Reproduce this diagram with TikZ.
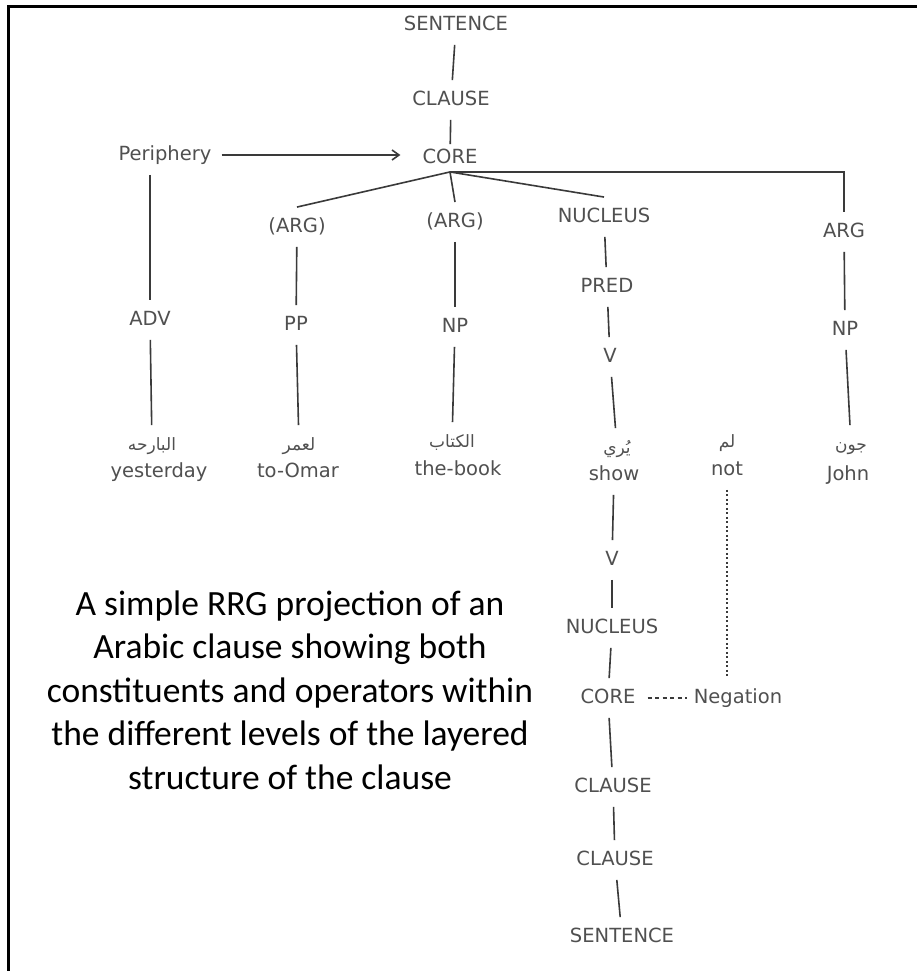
\documentclass[tikz,border=0pt]{standalone}
\usepackage{fontspec}
\setmainfont{DejaVu Sans}
\newfontfamily\treefont{DejaVu Sans}
\newfontfamily\arabicfont[Script=Arabic]{DejaVu Sans}
\newfontfamily\capfont{Carlito}
\TeXXeTstate=1
\usetikzlibrary{arrows.meta}
\definecolor{tc}{HTML}{505050}
\definecolor{lc}{HTML}{3A3A3A}
\begin{document}
\begin{tikzpicture}[x=1pt,y=-1pt,
  lbl/.style={font=\treefont\fontsize{19.5}{22}\selectfont, text=tc, inner xsep=4pt, inner ysep=11pt, text height=14.5pt, text depth=3pt},
  ar/.style={font=\arabicfont\fontsize{17}{20}\selectfont, text=tc, inner xsep=4pt, inner ysep=11pt, text height=14.5pt, text depth=3pt},
  edge/.style={draw=lc, line width=1.6pt},
  thin edge/.style={draw=lc, line width=1.3pt}]
\useasboundingbox (0,0) rectangle (917,971);
\fill[white] (0,0) rectangle (917,971);
\draw[line width=3pt] (8,971) -- (8,7) -- (917,7);

% upper tree
\node[lbl] (s1) at (456,25) {SENTENCE};
\node[lbl] (c1) at (451,100) {CLAUSE};
\node[lbl, inner ysep=5pt] (core) at (450,158) {CORE};
\node[lbl] (peri) at (165,155) {Periphery};
\node[lbl] (arg1) at (297,227) {(ARG)};
\node[lbl] (arg2) at (455,222) {(ARG)};
\node[lbl] (nuc1) at (604,217) {NUCLEUS};
\node[lbl] (arg3) at (844,232) {ARG};
\node[lbl] (adv) at (150,320) {ADV};
\node[lbl] (pp) at (296,325) {PP};
\node[lbl] (np2) at (455,327) {NP};
\node[lbl] (pred) at (607,287) {PRED};
\node[lbl] (v1) at (610,357) {V};
\node[lbl] (np3) at (845,330) {NP};

% words
\node[ar] (advar) at (152,445) {\beginR البارحه\endR};
\node[ar] (omarar) at (299,445) {\beginR لعمر\endR};
\node[ar] (bookar) at (452,442) {\beginR الكتاب\endR};
\node[ar] (yuriar) at (617,448) {\beginR يُري\endR};
\node[ar] (notar) at (727,442) {\beginR لم\endR};
\node[ar] (johnar) at (851,445) {\beginR جون\endR};
\node[lbl] (yest) at (159,472) {yesterday};
\node[lbl] (omar) at (298,472) {to-Omar};
\node[lbl] (book) at (458,470) {the-book};
\node[lbl] (show) at (614,475) {show};
\node[lbl] (not) at (727,470) {not};
\node[lbl] (john) at (848,475) {John};

% lower column
\node[lbl] (v2) at (612,560) {V};
\node[lbl] (nuc2) at (612,628) {NUCLEUS};
\node[lbl] (core2) at (608,698) {CORE};
\node[lbl] (neg) at (738,698) {Negation};
\node[lbl] (c2) at (613,787) {CLAUSE};
\node[lbl] (c3) at (615,860) {CLAUSE};
\node[lbl] (s2) at (622,937) {SENTENCE};

% caption
\node[font=\capfont\fontsize{35.5}{43.5}\selectfont, align=center, text=black] (cap) at (290,690)
  {A simple RRG projection of an\\Arabic clause showing both\\constituents and operators within\\the different levels of the layered\\structure of the clause};

% connectors
\draw[edge] (s1) -- (c1);
\draw[edge] (c1) -- (core);
\draw[edge, -{Straight Barb[length=7pt,width=10pt]}, shorten <=6pt, shorten >=18pt] (peri) -- (core.west |- peri);
\draw[edge] (peri.south -| adv) -- (adv);
\draw[edge] (adv) -- (advar);
\draw[edge] (core.south) -- (arg1.north);
\draw[edge] (core.south) -- (arg2.north);
\draw[edge] (core.south) -- (nuc1.north);
\draw[edge] (core.south) -| (arg3.north);
\draw[edge] (arg1) -- (pp);
\draw[edge] (pp) -- (omarar);
\draw[edge] (arg2) -- (np2);
\draw[edge] (np2) -- (bookar);
\draw[edge] (nuc1) -- (pred);
\draw[edge] (pred) -- (v1);
\draw[edge] (v1) -- (yuriar);
\draw[edge] (arg3) -- (np3);
\draw[edge] (np3) -- (johnar);
\draw[edge] (show) -- (v2);
\draw[edge] (v2) -- (nuc2);
\draw[edge] (nuc2) -- (core2);
\draw[edge] (core2) -- (c2);
\draw[edge] (c2) -- (c3);
\draw[edge] (c3) -- (s2);
\draw[thin edge, dash pattern=on 2pt off 2.5pt] (not.south) -- (not.south |- neg.north);
\draw[thin edge, dash pattern=on 4pt off 3.5pt, shorten <=8pt, shorten >=3pt] (core2) -- (neg);
\end{tikzpicture}
\end{document}
